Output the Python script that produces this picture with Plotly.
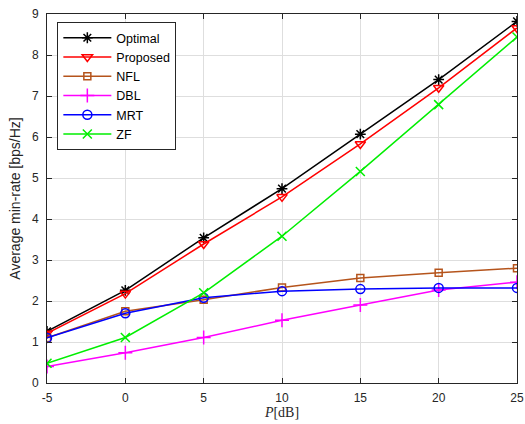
import plotly.graph_objects as go

P_dB = [-5, 0, 5, 10, 15, 20, 25]
x_ticklabels = ["-5", "0", "5", "10", "15", "20", "25"]
y_ticks = [0, 1, 2, 3, 4, 5, 6, 7, 8, 9]
optimal = [1.26, 2.26, 3.54, 4.74, 6.07, 7.40, 8.82]
proposed = [1.21, 2.18, 3.39, 4.54, 5.83, 7.20, 8.66]
nfl = [1.10, 1.75, 2.03, 2.33, 2.56, 2.69, 2.80]
dbl = [0.40, 0.74, 1.11, 1.53, 1.90, 2.27, 2.46]
mrt = [1.10, 1.70, 2.08, 2.24, 2.29, 2.32, 2.32]
zf = [0.48, 1.11, 2.20, 3.58, 5.16, 6.79, 8.44]

series = [
    ("Optimal", optimal, "#000000", "asterisk-open", 9),
    ("Proposed", proposed, "#ff0000", "triangle-down-open", 9),
    ("NFL", nfl, "#b5541c", "square-open", 7),
    ("DBL", dbl, "#ff00ff", "cross-thin-open", 10),
    ("MRT", mrt, "#0000ff", "circle-open", 9),
    ("ZF", zf, "#00ee00", "x-thin-open", 9),
]

fig = go.Figure()
for name, ys, color, sym, size in series:
    fig.add_trace(go.Scatter(
        x=P_dB, y=ys, name=name, mode="lines+markers",
        line=dict(color=color, width=1.5),
        marker=dict(symbol=sym, size=size, color=color, line=dict(color=color, width=1.5)),
    ))

axis_common = dict(
    showline=True, linecolor="#262626", linewidth=1, mirror="ticks",
    ticks="inside", ticklen=5, tickcolor="#262626",
    showgrid=True, gridcolor="#dedede", gridwidth=1,
    zeroline=False, automargin=False,
    tickfont=dict(family="Liberation Sans, Arial", size=12, color="#262626"),
)

fig.update_layout(
    width=525, height=424,
    margin=dict(l=47, r=8, t=14, b=41),
    paper_bgcolor="white", plot_bgcolor="white",
    xaxis=dict(range=[-5, 25], tickvals=P_dB, ticktext=x_ticklabels, ticklabelstandoff=4,
               title=dict(text="<i>P</i>[dB]", standoff=0,
                          font=dict(family="Liberation Serif, Times New Roman", size=14, color="#262626")),
               **axis_common),
    yaxis=dict(range=[0, 9], tickvals=y_ticks, ticklabelstandoff=5,
               title=dict(text="Average min-rate [bps/Hz]", standoff=8,
                          font=dict(family="Liberation Sans, Arial", size=14, color="#262626")),
               **axis_common),
    legend=dict(x=0.022, y=0.978, xanchor="left", yanchor="top",
                bgcolor="white", bordercolor="#262626", borderwidth=1,
                font=dict(family="Liberation Sans, Arial", size=12.5, color="#000000"),
                tracegroupgap=0, itemwidth=48),
    showlegend=True,
)

fig.write_html("out.html")
